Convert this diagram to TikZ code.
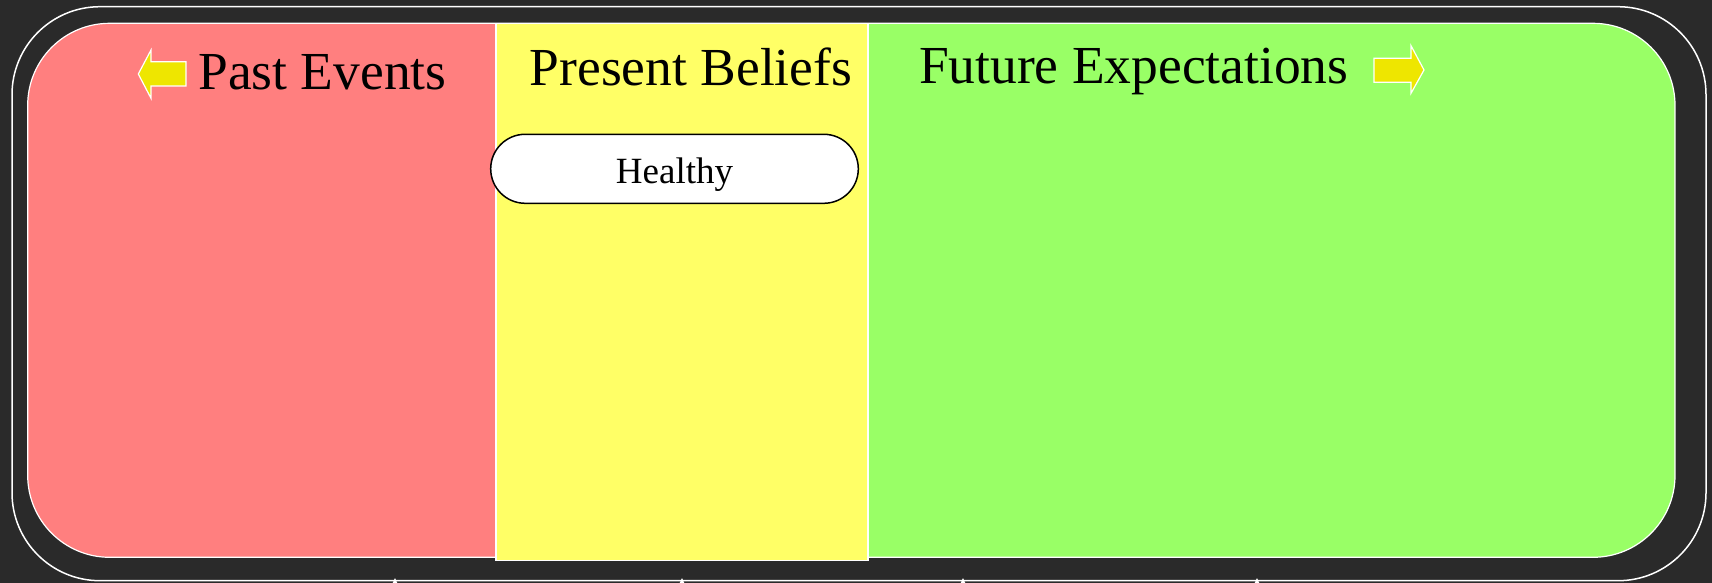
\documentclass[tikz,border=0pt]{standalone}
\usepackage{fontspec}
\setmainfont{Liberation Serif}
\definecolor{bgdark}{HTML}{2A2A2A}
\definecolor{pastred}{HTML}{FF7F7F}
\definecolor{presyellow}{HTML}{FFFF66}
\definecolor{futgreen}{HTML}{99FF66}
\definecolor{arrowyellow}{HTML}{EEE600}
\tikzset{
  titletext/.style={anchor=base, inner sep=0pt, text=black, font=\fontsize{53.5bp}{60bp}\selectfont},
  pillbox/.style={draw=black, fill=white, line width=1.5bp, rounded corners=34.5bp,
    minimum width=367.6bp, minimum height=69bp, inner sep=0pt, text height=29bp, text depth=0bp,
    font=\fontsize{37bp}{42bp}\selectfont},
  whiteedge/.style={draw=white, line width=1.2bp},
  dirarrow/.style={fill=arrowyellow, draw=white, line width=1.2bp, line join=miter},
  tipmark/.style={fill=white, draw=none}
}
\begin{document}
\begin{tikzpicture}[x=1bp, y=-1bp]
\useasboundingbox (0,0) rectangle (1712,583);
\fill[bgdark] (0,0) rectangle (1712,583);
% outer frame
\draw[white, line width=1.5bp, rounded corners=88bp] (12,6.7) rectangle (1706,580.7);
% inner panels
\begin{scope}
  \clip[rounded corners=82bp] (27.7,23.3) rectangle (1675,557.3);
  \fill[pastred] (27.7,23.3) rectangle (496,557.3);
  \fill[futgreen] (868,23.3) rectangle (1675,557.3);
\end{scope}
\draw[whiteedge, rounded corners=82bp] (27.7,23.3) rectangle (1675,557.3);
\draw[whiteedge, fill=presyellow] (496,23.3) rectangle (868,560.5);
% direction arrows
\draw[dirarrow] (138.3,74) -- (151,50) -- (151,61.7) -- (186,61.7) -- (186,86) -- (151,86) -- (151,98.3) -- cycle;
\draw[dirarrow] (1424,70) -- (1411,45.7) -- (1411,58.3) -- (1374,58.3) -- (1374,82.3) -- (1411,82.3) -- (1411,93.3) -- cycle;
% titles
\node[titletext] (past) at (322.5,89.3) {Past Events};
\node[titletext] (present) at (691,85.3) {Present Beliefs};
\node[titletext] (future) at (1133.7,83.3) {Future Expectations};
% healthy pill
\node[pillbox] (healthy) at (674.5,168.8) {Healthy};
% small marks at the bottom edge
\foreach \mx in {395,682,963,1257}{
  \fill[tipmark] (\mx,578) -- (\mx-2.5,583.5) -- (\mx+2.5,583.5) -- cycle;
}
\end{tikzpicture}
\end{document}
